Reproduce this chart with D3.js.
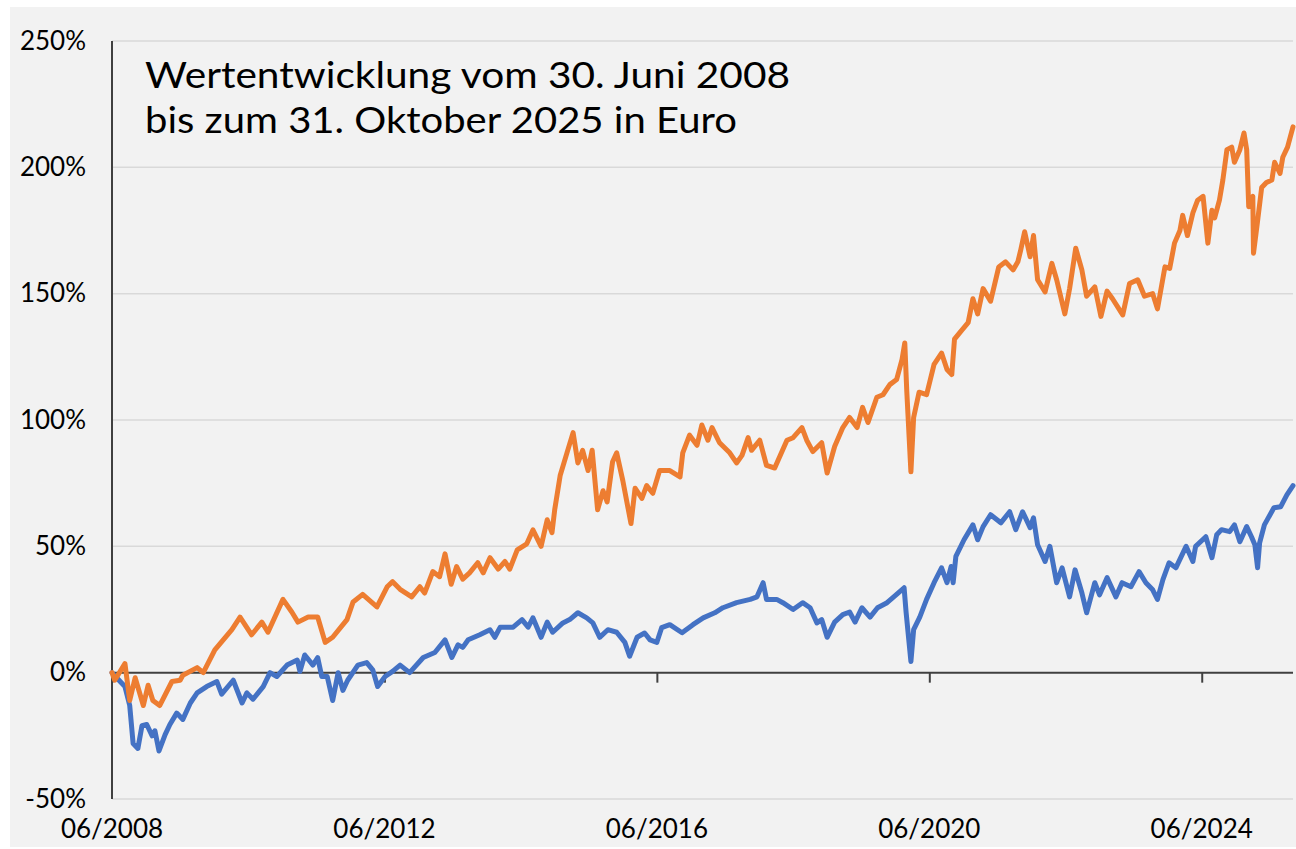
<!DOCTYPE html>
<html>
<head>
<meta charset="utf-8">
<script src="https://cdn.jsdelivr.net/npm/d3@7"></script>
<style>
  body { margin: 0; background: #ffffff; }
  svg { display: block; }
  text { font-family: Lato, "Noto Sans", sans-serif; fill: #000; }
</style>
</head>
<body>
<div id="chart"></div>
<script>
// tick labels
var yTicks = [-50, 0, 50, 100, 150, 200, 250];
var xTickYears = [2008.5, 2012.5, 2016.5, 2020.5, 2024.5];
var xTickLabels = ["06/2008", "06/2012", "06/2016", "06/2020", "06/2024"];
var titleLines = ["Wertentwicklung vom 30. Juni 2008", "bis zum 31. Oktober 2025 in Euro"];

// orange series (decimal year, % change)
var orangeYears = [2008.50,2008.54,2008.69,2008.76,2008.84,2008.96,2009.03,2009.10,2009.20,2009.38,2009.50,2009.54,2009.75,2009.84,2010.01,2010.26,2010.38,2010.55,2010.70,2010.79,2011.01,2011.14,2011.23,2011.38,2011.52,2011.63,2011.74,2011.95,2012.04,2012.18,2012.39,2012.54,2012.62,2012.73,2012.90,2013.02,2013.09,2013.21,2013.31,2013.39,2013.48,2013.56,2013.65,2013.75,2013.87,2013.95,2014.05,2014.17,2014.27,2014.34,2014.45,2014.59,2014.68,2014.80,2014.89,2014.96,2015.00,2015.08,2015.18,2015.27,2015.34,2015.41,2015.49,2015.55,2015.63,2015.71,2015.77,2015.85,2015.91,2016.00,2016.12,2016.18,2016.28,2016.35,2016.44,2016.54,2016.69,2016.84,2016.88,2016.98,2017.09,2017.16,2017.25,2017.31,2017.42,2017.57,2017.67,2017.75,2017.84,2017.89,2018.01,2018.11,2018.23,2018.41,2018.50,2018.63,2018.70,2018.79,2018.92,2019.00,2019.11,2019.23,2019.33,2019.44,2019.52,2019.60,2019.73,2019.82,2019.92,2020.02,2020.10,2020.14,2020.17,2020.23,2020.27,2020.35,2020.46,2020.57,2020.68,2020.76,2020.83,2020.87,2020.96,2021.07,2021.14,2021.21,2021.29,2021.40,2021.52,2021.62,2021.73,2021.80,2021.84,2021.90,2021.98,2022.03,2022.09,2022.20,2022.30,2022.37,2022.49,2022.56,2022.65,2022.74,2022.81,2022.93,2023.02,2023.11,2023.19,2023.34,2023.44,2023.56,2023.66,2023.78,2023.85,2023.96,2024.03,2024.10,2024.18,2024.22,2024.29,2024.37,2024.44,2024.52,2024.59,2024.65,2024.69,2024.76,2024.81,2024.87,2024.94,2024.98,2025.06,2025.12,2025.16,2025.19,2025.25,2025.26,2025.31,2025.38,2025.45,2025.53,2025.57,2025.65,2025.69,2025.76,2025.84];
var orangeValues = [0,-3,3.6,-11,-2,-13,-5,-11,-13,-3.5,-3,-1,2,0,9,17,22,15,20,16,29,24,20,22,22,12,14,21,28,31,26,34,36,33,30,34,31.5,40,38,47,35,42,37,39.5,43.5,39.5,45.5,41,44,41,48.6,51,56.5,50,60.5,55.4,64.5,78,87,95,83,88,80,88,64.5,72,67.6,83.5,87,76,59,73,69,74,71,80,80,77.5,87,94,90,98,92,97,91,87,83,86,93,88,92,82,81,92,93,97,92,87.5,91,79,89.5,97,101,97,105,99,109,110,114,116,124,130.5,111,79.5,101,111,110,122,126.5,120,118,132,135,138.5,148,142,152,147,160.6,162.6,159.4,162.6,167,174.5,164.6,173,155.5,150.7,162,155.5,142,152,168,159.4,149,152.7,141,151,148,141.6,154,155.5,149,150,144,160.6,160,170,175,181,173,182,187,188.5,170,183,180,187,195,207,208,202,207,213.6,207,184.4,188.5,166,176.6,192,194,195,202,197.6,204,208,216];

// blue series (decimal year, % change)
var blueYears = [2008.50,2008.62,2008.69,2008.76,2008.81,2008.88,2008.94,2009.01,2009.09,2009.13,2009.19,2009.28,2009.35,2009.45,2009.54,2009.65,2009.75,2009.89,2010.04,2010.11,2010.28,2010.41,2010.48,2010.57,2010.72,2010.82,2010.92,2011.07,2011.22,2011.26,2011.33,2011.45,2011.52,2011.58,2011.66,2011.74,2011.82,2011.89,2011.96,2012.11,2012.24,2012.33,2012.40,2012.51,2012.62,2012.73,2012.87,2013.07,2013.24,2013.39,2013.49,2013.58,2013.65,2013.73,2013.90,2014.05,2014.12,2014.20,2014.39,2014.52,2014.61,2014.68,2014.80,2014.89,2014.97,2015.12,2015.22,2015.34,2015.47,2015.56,2015.66,2015.78,2015.91,2016.03,2016.10,2016.21,2016.32,2016.40,2016.50,2016.57,2016.69,2016.87,2017.03,2017.18,2017.35,2017.47,2017.67,2017.87,2017.97,2018.06,2018.11,2018.26,2018.35,2018.50,2018.64,2018.75,2018.85,2018.92,2019.00,2019.11,2019.23,2019.33,2019.41,2019.51,2019.63,2019.74,2019.88,2020.02,2020.13,2020.16,2020.23,2020.27,2020.36,2020.46,2020.57,2020.68,2020.76,2020.82,2020.85,2020.89,2021.01,2021.14,2021.21,2021.29,2021.40,2021.55,2021.68,2021.77,2021.87,2021.98,2022.03,2022.09,2022.20,2022.27,2022.37,2022.45,2022.56,2022.64,2022.74,2022.81,2022.93,2023.00,2023.11,2023.24,2023.33,2023.46,2023.58,2023.68,2023.78,2023.85,2023.93,2024.02,2024.12,2024.27,2024.37,2024.41,2024.56,2024.65,2024.72,2024.79,2024.91,2024.98,2025.06,2025.16,2025.23,2025.28,2025.32,2025.35,2025.42,2025.56,2025.66,2025.75,2025.84];
var blueValues = [0,-3.5,-5.5,-13,-28,-30,-21,-20.5,-25,-23,-31,-24.5,-20.5,-16,-18.5,-12,-8,-5.5,-3.5,-8.5,-3,-12,-8,-10.5,-5.5,0,-1.5,3,5,0.5,7,3,6,-1.5,-1.5,-11,0,-7,-3,3,4,1,-5.5,-1.5,0.5,3,0,6,8,13,6,11,10,13,15,17,14,18,18,21,18,21.7,14,20,16,19.7,21,23.7,21.7,19.7,14,17,16,12,6.5,14,15.7,13,12,17.8,19,15.8,19,21.7,23.7,25.7,27.7,29,30,35.6,29,29,27.7,25,27.7,25.7,19.7,21,14,20,23,24,20,25.7,22,25.7,27.7,31,33.6,23.7,4.4,17,22,29,35.6,41.5,35.6,42,35.6,46,52.6,58.5,52.6,57.8,62.5,59.3,63.7,56.6,63.7,57.4,61.3,50.6,44,50,35.6,41.5,30,40.7,31.6,23.7,35.6,30.8,37.6,30,35.6,34,40,35.6,32.8,29,36.8,43.5,41.5,50,44,50,53.8,45.5,54.6,56.6,55.8,58.5,51.8,57.8,53.8,50.6,41.5,51.4,58.5,65.3,65.7,70.4,74];

var width = 1296, height = 849;
var plot = { left: 112, right: 1293, top: 41, bottom: 799 };

var svg = d3.select("#chart").append("svg")
    .attr("width", width)
    .attr("height", height);

// grey panel
svg.append("rect")
    .attr("x", 10).attr("y", 7)
    .attr("width", width - 10).attr("height", 840)
    .attr("fill", "#f2f2f2");

var x = d3.scaleLinear().domain([2008.5, 2025.84]).range([plot.left, plot.right]);
var y = d3.scaleLinear().domain([-50, 250]).range([plot.bottom, plot.top]);

// horizontal gridlines
svg.append("g").selectAll("line")
    .data(yTicks.filter(function(v){ return v !== 0; }))
    .enter().append("line")
    .attr("x1", plot.left).attr("x2", plot.right)
    .attr("y1", function(v){ return y(v); })
    .attr("y2", function(v){ return y(v); })
    .attr("stroke", "#d9d9d9")
    .attr("stroke-width", 1.5);

// y axis labels
var yAxis = svg.append("g")
    .attr("transform", "translate(" + 92 + ",0)")
    .call(d3.axisLeft(y).tickValues(yTicks).tickSize(0).tickPadding(6)
        .tickFormat(function(v){ return v + "%"; }));
yAxis.select(".domain").remove();
yAxis.selectAll("text")
    .style("font-family", "Lato, 'Noto Sans', sans-serif")
    .style("font-size", "26px")
    .attr("fill", "#000");

// vertical axis line
svg.append("line")
    .attr("x1", plot.left).attr("x2", plot.left)
    .attr("y1", plot.top).attr("y2", plot.bottom)
    .attr("stroke", "#404040")
    .attr("stroke-width", 2);

// zero line with tick marks
var xAxis = svg.append("g")
    .attr("transform", "translate(0," + y(0) + ")")
    .call(d3.axisBottom(x).tickValues(xTickYears).tickSize(10).tickFormat(""));
xAxis.select(".domain").remove();
xAxis.selectAll("line").attr("stroke", "#404040").attr("stroke-width", 2);
svg.append("line")
    .attr("x1", plot.left).attr("x2", plot.right)
    .attr("y1", y(0)).attr("y2", y(0))
    .attr("stroke", "#404040")
    .attr("stroke-width", 2);

// x labels at bottom
svg.append("g").selectAll("text")
    .data(xTickYears)
    .enter().append("text")
    .attr("x", function(d){ return x(d); })
    .attr("y", 838)
    .attr("text-anchor", "middle")
    .style("font-size", "26px")
    .text(function(d, i){ return xTickLabels[i]; });

// lines
var line = d3.line()
    .x(function(d){ return x(d[0]); })
    .y(function(d){ return y(d[1]); });

var orange = orangeYears.map(function(t, i){ return [t, orangeValues[i]]; });
var blue = blueYears.map(function(t, i){ return [t, blueValues[i]]; });

svg.append("path")
    .datum(blue)
    .attr("d", line)
    .attr("fill", "none")
    .attr("stroke", "#4472c4")
    .attr("stroke-width", 5)
    .attr("stroke-linejoin", "round")
    .attr("stroke-linecap", "round");

svg.append("path")
    .datum(orange)
    .attr("d", line)
    .attr("fill", "none")
    .attr("stroke", "#ed7d31")
    .attr("stroke-width", 5)
    .attr("stroke-linejoin", "round")
    .attr("stroke-linecap", "round");

// title
svg.append("g").selectAll("text")
    .data(titleLines)
    .enter().append("text")
    .attr("x", 145)
    .attr("y", function(d, i){ return 88 + i * 45; })
    .attr("textLength", function(d, i){ return i === 0 ? 645 : 592; })
    .attr("lengthAdjust", "spacingAndGlyphs")
    .style("font-size", "36px")
    .text(function(d){ return d; });
</script>
</body>
</html>
